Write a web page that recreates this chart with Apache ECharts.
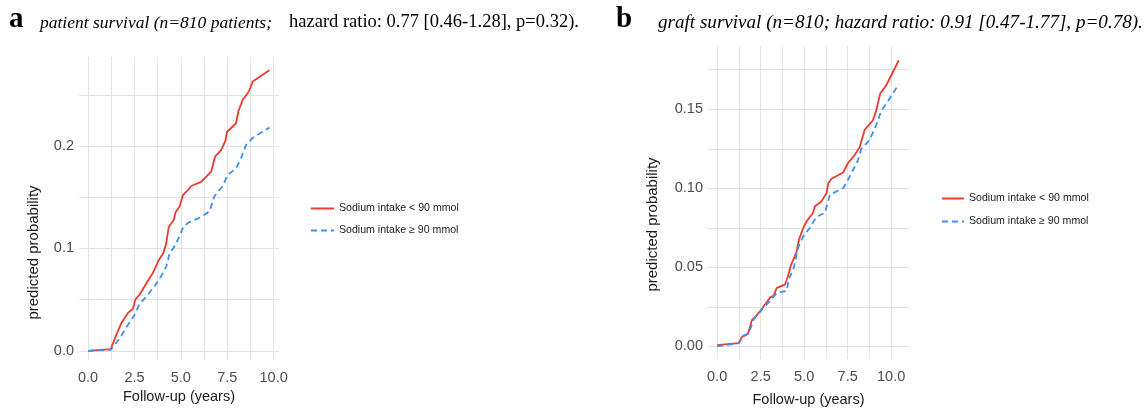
<!DOCTYPE html>
<html>
<head>
<meta charset="utf-8">
<script src="https://cdn.jsdelivr.net/npm/echarts@6/dist/echarts.min.js"></script>
<style>html,body{margin:0;padding:0;background:#fff;}#c{width:1146px;height:412px;}</style>
</head>
<body>
<div id="c"></div>
<script>
// ---- data ----
const seriesNames = ['Sodium intake < 90 mmol', 'Sodium intake \u2265 90 mmol'];

// Panel a: patient survival  [years, predicted probability]
const aLowX = [0, 1.22, 1.52, 1.79, 2.15, 2.42, 2.54, 2.78, 3.05, 3.17, 3.49, 3.82, 4.07, 4.21, 4.35, 4.62, 4.71, 4.93, 5.11, 5.38, 5.56, 6.09, 6.36, 6.63, 6.85, 7.17, 7.40, 7.49, 7.97, 8.10, 8.33, 8.66, 8.87, 9.77];
const aLowY = [0, 0.0016, 0.0156, 0.027, 0.037, 0.041, 0.050, 0.055, 0.063, 0.067, 0.076, 0.089, 0.096, 0.105, 0.121, 0.128, 0.135, 0.141, 0.152, 0.157, 0.161, 0.165, 0.170, 0.175, 0.190, 0.196, 0.205, 0.214, 0.222, 0.234, 0.245, 0.253, 0.263, 0.274];
const aHighX = [0, 1.22, 1.70, 2.10, 2.47, 2.78, 3.14, 3.58, 3.94, 4.21, 4.39, 4.66, 4.93, 5.11, 5.38, 6.00, 6.54, 6.81, 7.26, 7.53, 7.97, 8.24, 8.51, 8.87, 9.77];
const aHighY = [0, 0.001, 0.012, 0.024, 0.034, 0.046, 0.053, 0.063, 0.073, 0.082, 0.095, 0.102, 0.112, 0.120, 0.125, 0.130, 0.136, 0.151, 0.161, 0.172, 0.178, 0.188, 0.201, 0.208, 0.218];

// Panel b: graft survival
const bLowX = [0, 1.24, 1.43, 1.77, 2.00, 2.19, 2.48, 2.76, 3.05, 3.24, 3.43, 3.90, 4.10, 4.23, 4.42, 4.57, 4.70, 4.95, 5.14, 5.33, 5.49, 5.62, 6.00, 6.29, 6.38, 6.57, 7.24, 7.52, 7.90, 8.19, 8.48, 8.95, 9.14, 9.37, 9.71, 10.44];
const bLowY = [0.0008, 0.0021, 0.006, 0.0078, 0.0166, 0.0187, 0.0224, 0.0266, 0.031, 0.032, 0.037, 0.039, 0.0455, 0.051, 0.056, 0.060, 0.0676, 0.075, 0.079, 0.082, 0.084, 0.0886, 0.0917, 0.097, 0.103, 0.106, 0.110, 0.116, 0.121, 0.126, 0.137, 0.143, 0.149, 0.160, 0.165, 0.181];
const bHighX = [0, 1.24, 1.52, 1.81, 2.10, 2.67, 3.14, 3.43, 4.00, 4.10, 4.38, 4.67, 4.95, 5.33, 5.71, 6.19, 6.48, 6.86, 7.24, 7.62, 8.10, 8.29, 8.76, 9.14, 9.43, 9.81, 10.44];
const bHighY = [0, 0.002, 0.007, 0.008, 0.017, 0.0245, 0.030, 0.034, 0.035, 0.042, 0.0487, 0.063, 0.0697, 0.075, 0.082, 0.0844, 0.096, 0.098, 0.100, 0.1074, 0.118, 0.125, 0.1305, 0.140, 0.149, 0.155, 0.166];

// tick labels and grid positions
const xTicks = [0, 2.5, 5, 7.5, 10];
const xGrid = [0, 1.25, 2.5, 3.75, 5, 6.25, 7.5, 8.75, 10];
const aYTicks = [0, 0.1, 0.2];
const aYGrid = [0, 0.05, 0.1, 0.15, 0.2, 0.25];
const bYTicks = [0, 0.05, 0.10, 0.15];
const bYGrid = [0, 0.025, 0.05, 0.075, 0.1, 0.125, 0.15, 0.175];

const titleA = ['a', 'patient survival (n=810 patients;', 'hazard ratio: 0.77 [0.46-1.28], p=0.32).'];
const titleB = ['b', 'graft survival (n=810; hazard ratio: 0.91 [0.47-1.77], p=0.78).'];

// ---- chart ----
const zip = (xs, ys) => xs.map((x, i) => [x, ys[i]]);
const RED = '#EE3B2F', BLUE = '#3F8EF0';
const gridLine = { show: true, lineStyle: { color: '#e2e2e2', width: 1 } };
const sans = 'Liberation Sans, Arial, sans-serif';
const serif = 'Liberation Serif, Times New Roman, serif';

function xAxis(gridIndex, min, max, gap) {
  return {
    type: 'value', gridIndex, min, max,
    axisLine: { show: false },
    axisTick: { show: false, customValues: xGrid },
    axisLabel: { customValues: xTicks, formatter: v => v.toFixed(1), color: '#4d4d4d', fontFamily: sans, fontSize: 14.5, margin: 10 },
    splitLine: gridLine,
    name: 'Follow-up (years)', nameLocation: 'middle', nameGap: gap,
    nameTextStyle: { color: '#1a1a1a', fontFamily: sans, fontSize: 14.5 }
  };
}
function yAxis(gridIndex, min, max, ticks, grid, digits, gap, shift) {
  return {
    type: 'value', gridIndex, min, max,
    axisLine: { show: false },
    axisTick: { show: false, customValues: grid },
    axisLabel: { customValues: ticks, formatter: v => v.toFixed(digits), color: '#4d4d4d', fontFamily: sans, fontSize: 14.5, margin: 5 },
    splitLine: gridLine,
    name: 'predicted probability', nameLocation: 'middle', nameGap: gap,
    nameTextStyle: { color: '#1a1a1a', fontFamily: sans, fontSize: 15, padding: [0, 2 * shift, 0, 0] }
  };
}
function line(name, data, xi, color, dashed) {
  return {
    type: 'line', name, data, xAxisIndex: xi, yAxisIndex: xi,
    symbol: 'none', smooth: false, silent: true,
    lineStyle: { color, width: 1.8, type: dashed ? [6, 4] : 'solid' },
    itemStyle: { color }
  };
}
function txt(x, y, text, size, style, weight) {
  return {
    type: 'text', x, y, silent: true,
    style: { text, fill: '#000', font: (style || 'normal') + ' ' + (weight || 'normal') + ' ' + size + 'px ' + serif, textVerticalAlign: 'bottom', verticalAlign: 'bottom' }
  };
}
const legendCommon = {
  orient: 'vertical', itemHeight: 10, selectedMode: false,
  itemStyle: { opacity: 0 },
  textStyle: { fontFamily: sans, fontSize: 10.6, color: '#1a1a1a' }
};

const chart = echarts.init(document.getElementById('c'), null, { renderer: 'canvas' });
chart.setOption({
  animation: false,
  backgroundColor: '#fff',
  graphic: [
    txt(9, 34, titleA[0], 29, 'normal', 'bold'),
    txt(40, 32, titleA[1], 17.5, 'italic'),
    txt(289, 32, titleA[2], 18.5, 'normal'),
    txt(616, 34, titleB[0], 29, 'normal', 'bold'),
    txt(658, 32, titleB[1], 19.1, 'italic')
  ],
  legend: [
    Object.assign({ left: 305, top: 198, itemWidth: 23, itemGap: 11, data: seriesNames }, legendCommon),
    Object.assign({ left: 936, top: 188, itemWidth: 22, itemGap: 12, data: seriesNames }, legendCommon)
  ],
  grid: [
    { left: 79, top: 57, width: 200, height: 303 },
    { left: 708, top: 46, width: 201, height: 314 }
  ],
  xAxis: [xAxis(0, -0.49, 10.29, 28), xAxis(1, -0.525, 11.025, 33)],
  yAxis: [
    yAxis(0, -0.009, 0.287, aYTicks, aYGrid, 1, 38, 44),
    yAxis(1, -0.008, 0.19, bYTicks, bYGrid, 2, 48, 22)
  ],
  series: [
    line(seriesNames[0], zip(aLowX, aLowY), 0, RED, false),
    line(seriesNames[1], zip(aHighX, aHighY), 0, BLUE, true),
    line(seriesNames[0], zip(bLowX, bLowY), 1, RED, false),
    line(seriesNames[1], zip(bHighX, bHighY), 1, BLUE, true)
  ]
});
</script>
</body>
</html>
